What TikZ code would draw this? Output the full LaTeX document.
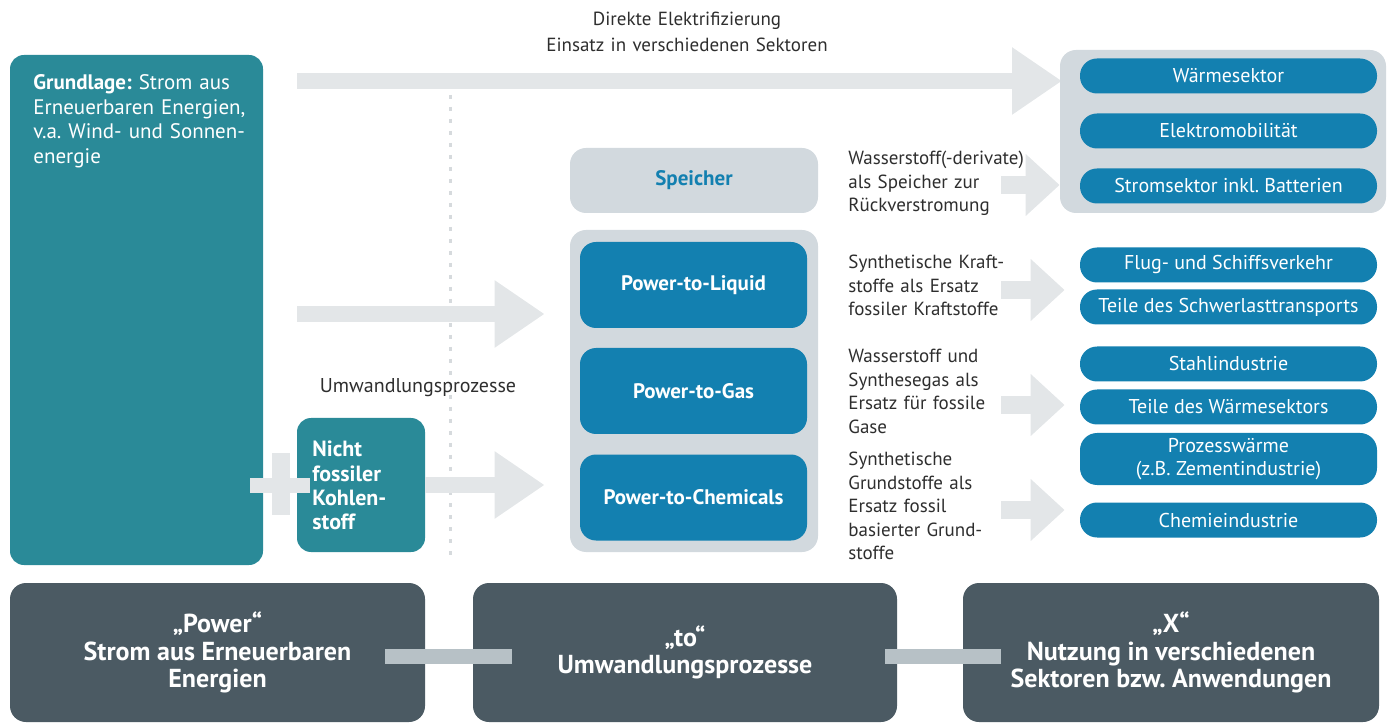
\documentclass[tikz,border=0pt]{standalone}
\usepackage{fontspec}
\setmainfont{PT Sans}
\usepackage{xcolor}
\usepackage{tikz}
\usetikzlibrary{arrows.meta,positioning}
\frenchspacing

\definecolor{grundteal}{HTML}{2A8A98}
\definecolor{pillblue}{HTML}{1380B0}
\definecolor{grpgray}{HTML}{D2D9DE}
\definecolor{arrowgray}{HTML}{E3E6E8}
\definecolor{slate}{HTML}{4B5A63}
\definecolor{bargray}{HTML}{B7C1C6}
\definecolor{txtgray}{HTML}{2E2E2E}
\definecolor{dotgray}{HTML}{D6DADD}

\begin{document}
\begin{tikzpicture}[x=0.5pt,y=-0.5pt,
    tealbox/.style={fill=grundteal, rounded corners=7pt, inner sep=0pt},
    grpbox/.style={fill=grpgray, rounded corners=8pt, inner sep=0pt},
    ptbox/.style={fill=pillblue, rounded corners=8pt, text=white, inner sep=0pt,
      minimum width=113.5pt, minimum height=43pt, font=\bfseries\fontsize{10.5}{12}\selectfont},
    pill/.style={fill=pillblue, rounded corners=8.5pt, text=white, inner sep=0pt, align=center,
      minimum width=148.5pt, minimum height=17.5pt, font=\fontsize{10}{11.5}\selectfont},
    lbl/.style={anchor=base west, text width=84pt, align=left, inner sep=0pt, text=txtgray,
      font=\fontsize{9.5}{11.75}\selectfont},
    darkbox/.style={fill=slate, rounded corners=8pt, text=white, align=center, inner sep=0pt,
      minimum height=69.5pt, font=\bfseries\fontsize{13}{13.75}\selectfont},
    bigarrow/.style={arrowgray, line width=8pt, -{Triangle[width=32pt,length=25pt]}},
    smallarrow/.style={arrowgray, line width=9pt, -{Triangle[width=30pt,length=17pt]}},
    plusbar/.style={arrowgray, line width=7.5pt},
    bar/.style={bargray, line width=7.5pt}]
  \useasboundingbox (0,0) rectangle (1390,726);

  \node[text width=170pt, align=center, anchor=base, inner sep=0pt, text=txtgray,
    font=\fontsize{9.5}{13}\selectfont] (direkt) at (687,26)
    {Direkte Elektrifizierung\\Einsatz in verschiedenen Sektoren};

  \node[tealbox, minimum width=126.5pt, minimum height=255pt] (grund) at (136.5,310) {};
  \node[anchor=base west, text width=120pt, align=left, inner sep=0pt, text=white,
    font=\fontsize{10.5}{12.25}\selectfont] (grundtxt) at (33,90)
    {\textbf{Grundlage:} Strom aus\\Erneuerbaren Energien,\\v.a. Wind- und Sonnen-\\energie};

  \draw[dotgray, line width=1.5pt, dash pattern=on 2pt off 4pt] (450,95) -- (450,555);

  \node[grpbox, minimum width=124pt, minimum height=32.5pt, text=pillblue,
    font=\bfseries\fontsize{10.5}{12}\selectfont] (speicher) at (694,180.5) {Speicher};
  \node[grpbox, minimum width=124pt, minimum height=161pt] (ptgrp) at (694,391) {};
  \node[ptbox] (ptl) at (693.5,285) {Power-to-Liquid};
  \node[ptbox] (ptg) at (693.5,391) {Power-to-Gas};
  \node[ptbox] (ptc) at (693.5,497.5) {Power-to-Chemicals};

  \node[tealbox, minimum width=64pt, minimum height=67pt] (nicht) at (361,485) {};
  \node[anchor=base west, text width=56pt, align=left, inner sep=0pt, text=white,
    font=\bfseries\fontsize{11}{12.15}\selectfont] (nichttxt) at (312,457)
    {Nicht\\fossiler\\Kohlen-\\stoff};
  \node[anchor=base, inner sep=0pt, text=txtgray, font=\fontsize{10}{12}\selectfont]
    (umwlbl) at (418,393) {Umwandlungsprozesse};

  \draw[plusbar] ([xshift=-6.5pt]grund.east |- nicht.west) -- ([xshift=6.5pt]nicht.west);
  \draw[plusbar, line width=9pt] (281,453) -- (281,515);

  \draw[bigarrow, shorten <=17pt] (grund.east |- 0,81) -- (1062,81);
  \draw[bigarrow, shorten <=17pt, shorten >=12.5pt] (grund.east |- 0,314) -- (ptgrp.west |- 0,314);
  \draw[bigarrow, shorten >=12.5pt] (nicht.east) -- (ptgrp.west |- nicht.east);

  \node[grpbox, minimum width=163pt, minimum height=81.5pt] (sekgrp) at (1223,131.5) {};
  \foreach \n/\y/\t in {w1/76/Wärmesektor, w2/131/Elektromobilität,
      w3/186/Stromsektor inkl. Batterien, f1/265/Flug- und Schiffsverkehr,
      f2/307/Teile des Schwerlasttransports, s1/364/Stahlindustrie,
      s2/407/Teile des Wärmesektors, c1/520/Chemieindustrie}
    \node[pill] (\n) at (1228.5,\y) {\t};
  \node[pill, minimum height=26pt] (pz) at (1228.5,459) {Prozesswärme\\(z.B. Zementindustrie)};

  \node[lbl] (l1) at (848,165) {\mbox{Wasserstoff(-derivate)}\\als Speicher zur\\Rückverstromung};
  \node[lbl] (l2) at (848,269) {Synthetische Kraft-\\stoffe als Ersatz\\fossiler Kraftstoffe};
  \node[lbl] (l3) at (848,363) {Wasserstoff und\\Synthesegas als\\Ersatz für fossile\\Gase};
  \node[lbl] (l4) at (848,466) {Synthetische\\Grundstoffe als\\Ersatz fossil\\basierter Grund-\\stoffe};

  \draw[smallarrow] ([xshift=-8pt]l1.east |- 0,185) -- (sekgrp.west |- 0,185);
  \draw[smallarrow, shorten >=7.5pt] ([xshift=-8pt]l2.east |- 0,290) -- (f1.west |- 0,290);
  \draw[smallarrow, shorten >=7.5pt] ([xshift=-8pt]l3.east |- 0,405) -- (s2.west |- 0,405);
  \draw[smallarrow, shorten >=7.5pt] ([xshift=-8pt]l4.east |- 0,510) -- (c1.west |- 0,510);

  \node[darkbox, minimum width=207.5pt] (pwr) at (217.5,652.5)
    {„Power“\\Strom aus Erneuerbaren\\Energien};
  \node[darkbox, minimum width=212pt] (umw) at (685,652.5) {„to“\\Umwandlungsprozesse};
  \node[darkbox, minimum width=208pt] (nutz) at (1171,652.5)
    {„X“\\Nutzung in verschiedenen\\Sektoren bzw. Anwendungen};
  \draw[bar] ([xshift=-20pt,yshift=-2pt]pwr.east) -- ([xshift=19.5pt,yshift=-2pt]umw.west);
  \draw[bar] ([xshift=-6pt,yshift=-2pt]umw.east) -- ([xshift=19pt,yshift=-2pt]nutz.west);
\end{tikzpicture}
\end{document}
